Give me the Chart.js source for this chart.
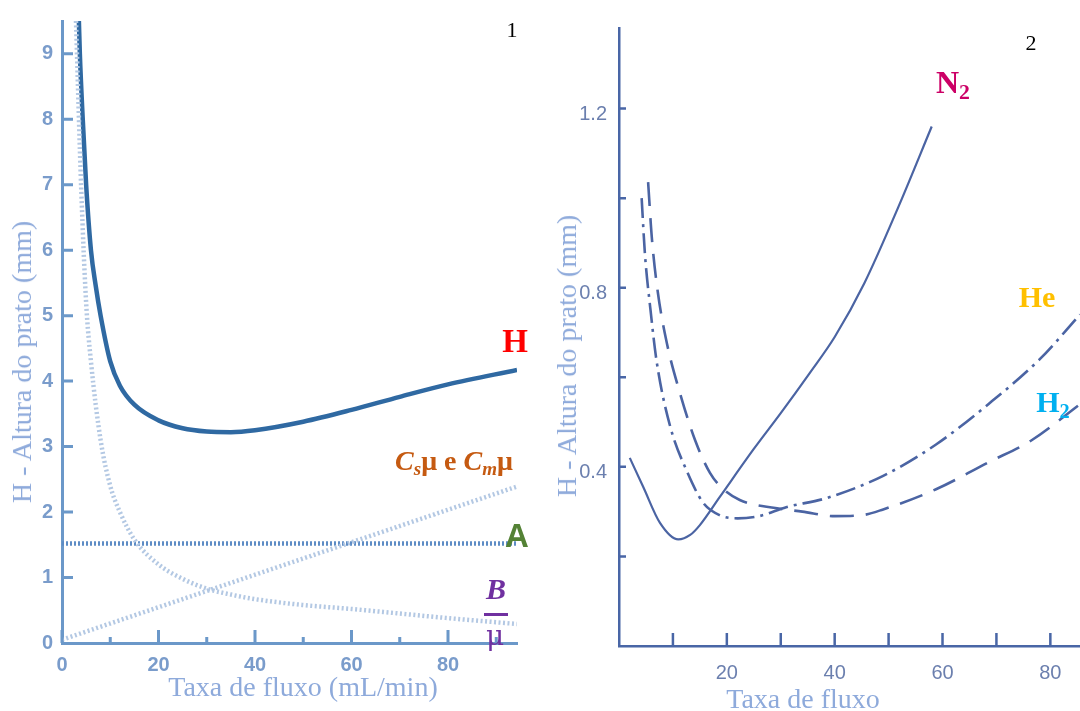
<!DOCTYPE html>
<html>
<head>
<meta charset="utf-8">
<script src="https://cdn.jsdelivr.net/npm/chart.js@4.4.1/dist/chart.umd.min.js"></script>
<style>
body{margin:0;background:#fff;}
#wrap{position:relative;width:1080px;height:711px;overflow:hidden;}
canvas{position:absolute;top:0;}
#c1{left:0;}
#c2{left:540px;}
.t{position:absolute;white-space:nowrap;font-family:'Liberation Serif','Times New Roman',serif;line-height:1;}
.rot{transform:translate(-50%,-50%) rotate(-90deg);}
.ctr{transform:translate(-50%,-50%);}
.t sub{font-size:.68em;vertical-align:-0.28em;line-height:0;}
</style>
</head>
<body>
<div id="wrap">
  <canvas id="c1" width="540" height="711"></canvas>
  <canvas id="c2" width="540" height="711"></canvas>

  <div class="t rot" style="left:22px;top:362px;font-size:28px;color:#8eaadb">H - Altura do prato (mm)</div>
  <div class="t ctr" style="left:303px;top:687px;font-size:28px;color:#8eaadb">Taxa de fluxo (mL/min)</div>
  <div class="t rot" style="left:567px;top:356px;font-size:28px;color:#8eaadb">H - Altura do prato (mm)</div>
  <div class="t ctr" style="left:803px;top:699px;font-size:28px;color:#8eaadb">Taxa de fluxo</div>

  <div class="t ctr" style="left:512px;top:30px;font-size:22px;color:#000">1</div>
  <div class="t ctr" style="left:1031px;top:43px;font-size:22px;color:#000">2</div>

  <div class="t ctr" style="left:515px;top:341px;font-size:33px;font-weight:bold;color:#ff0000">H</div>
  <div class="t ctr" style="left:454px;top:461px;font-size:28px;font-weight:bold;color:#c55a11"><i>C<sub>s</sub></i>μ e <i>C<sub>m</sub></i>μ</div>
  <div class="t ctr" style="left:517px;top:535px;font-size:33px;font-weight:bold;font-family:'Liberation Sans',Arial,sans-serif;color:#548235">A</div>
  <div class="t ctr" style="left:496px;top:589px;font-size:30px;font-weight:bold;font-style:italic;color:#7030a0">B</div>
  <div style="position:absolute;left:484px;top:613px;width:24px;height:3px;background:#7030a0"></div>
  <div class="t ctr" style="left:495px;top:636px;font-size:28px;font-family:'DejaVu Serif',serif;color:#7030a0">μ</div>

  <div class="t ctr" style="left:953px;top:82px;font-size:32px;font-weight:bold;color:#cc0066">N<sub>2</sub></div>
  <div class="t ctr" style="left:1037px;top:297px;font-size:30px;font-weight:bold;color:#ffc000">He</div>
  <div class="t ctr" style="left:1053px;top:402px;font-size:30px;font-weight:bold;color:#00b0f0">H<sub>2</sub></div>
</div>

<script>
// painel 1 - equação de van Deemter (H, A, B/u, Cu)
let flowH = [3.5, 3.7, 4.3, 5, 6, 7, 8, 10, 12, 15, 20, 25, 30, 35, 40, 50, 60, 70, 80, 94.3];
let plateH = [9.5, 9.0, 8.0, 7.0, 6.0, 5.45, 5.0, 4.3, 3.93, 3.64, 3.4, 3.28, 3.23, 3.22, 3.25, 3.38, 3.56, 3.76, 3.95, 4.17];
let flowB = [2.9, 4, 5, 6, 8, 10, 12, 15, 20, 25, 30, 35, 40, 50, 60, 70, 80, 94.3];
let plateB = [9.5, 6.9, 5.2, 4.3, 3.1, 2.4, 2.0, 1.58, 1.2, 0.98, 0.83, 0.74, 0.67, 0.58, 0.52, 0.45, 0.38, 0.29];
let flowC = [0, 94.3];
let plateC = [0.05, 2.39];
let flowA = [0, 94.3];
let plateA = [1.52, 1.52];

// painel 2 - gases de arraste
let flowN2 = [2, 4.5, 7.6, 11, 13.2, 15, 18.7, 25, 30, 35.4, 40, 45.5, 51.8, 58];
let plateN2 = [0.42, 0.355, 0.275, 0.238, 0.248, 0.27, 0.333, 0.44, 0.52, 0.61, 0.69, 0.81, 0.98, 1.16];
let flowHe = [4.2, 4.8, 5.8, 7, 9.5, 12.6, 15.6, 18.7, 22, 26, 31, 38.4, 49, 58.8, 68.5, 78, 85.5];
let plateHe = [1.0, 0.877, 0.755, 0.634, 0.49, 0.39, 0.32, 0.292, 0.285, 0.29, 0.31, 0.33, 0.38, 0.45, 0.54, 0.64, 0.74];
let flowH2 = [5.4, 6.1, 7.2, 8.9, 11.3, 14.1, 16.9, 19.1, 22.4, 29, 34, 40, 45, 49, 58.8, 68.5, 76.6, 85.5];
let plateH2 = [1.036, 0.91, 0.79, 0.675, 0.565, 0.46, 0.386, 0.353, 0.326, 0.308, 0.3, 0.29, 0.292, 0.305, 0.35, 0.41, 0.46, 0.54];

let pts = (xs, ys) => xs.map((x, i) => ({x: x, y: ys[i]}));

// ticks voltados para dentro do gráfico
const innerTicks = {
  id: 'innerTicks',
  afterDraw(chart, args, o) {
    const ctx = chart.ctx, xs = chart.scales.x, ys = chart.scales.y;
    ctx.save();
    ctx.strokeStyle = o.color;
    ctx.lineWidth = o.width;
    ctx.beginPath();
    xs.ticks.forEach(t => {
      if (t.value < o.xFrom) return;
      const px = xs.getPixelForValue(t.value);
      const len = Math.round(t.value) % 20 === 0 ? o.xMajor : o.xMinor;
      ctx.moveTo(px, xs.top);
      ctx.lineTo(px, xs.top - len);
    });
    ys.ticks.forEach(t => {
      if (t.value <= 0.001) return;
      const py = ys.getPixelForValue(t.value);
      ctx.moveTo(ys.right, py);
      ctx.lineTo(ys.right + o.yLen, py);
    });
    ctx.stroke();
    ctx.restore();
  }
};

let line = (data, color, width, dash) => ({
  data: data, borderColor: color, borderWidth: width, borderDash: dash || [],
  pointRadius: 0, fill: false, tension: 0.4, cubicInterpolationMode: 'monotone'
});

new Chart(document.getElementById('c1'), {
  type: 'line',
  data: {
    datasets: [
      line(pts(flowB, plateB), '#b3c8e3', 4.5, [2, 2.5]),
      line(pts(flowC, plateC), '#b3c8e3', 4.5, [2, 2.5]),
      line(pts(flowA, plateA), '#5d8cc5', 4.5, [2, 2]),
      line(pts(flowH, plateH), '#2f69a2', 4.5)
    ]
  },
  options: {
    responsive: false,
    animation: false,
    events: [],
    layout: {autoPadding: false, padding: {left: 0, right: 23, top: 15, bottom: 0}},
    plugins: {
      legend: {display: false}, tooltip: {enabled: false},
      innerTicks: {color: '#6b98c9', width: 3, xFrom: 0, xMajor: 13, xMinor: 6, yLen: 11}
    },
    scales: {
      x: {
        type: 'linear', min: 0, max: 94.3,
        afterFit: s => { s.height = 68; },
        grid: {display: false, drawTicks: false},
        border: {display: true, color: '#6b98c9', width: 3},
        ticks: {
          stepSize: 10, includeBounds: false, padding: 10, maxRotation: 0, autoSkip: false,
          color: '#7a9ccb', font: {family: 'Liberation Sans', size: 20, weight: 'bold'},
          callback: v => (Math.round(v) % 20 === 0 ? v : '')
        }
      },
      y: {
        min: 0, max: 9.5,
        afterFit: s => { s.width = 62; },
        grid: {display: false, drawTicks: false},
        border: {display: true, color: '#6b98c9', width: 3},
        ticks: {
          stepSize: 1, includeBounds: false, padding: 9,
          color: '#7a9ccb', font: {family: 'Liberation Sans', size: 20, weight: 'bold'}
        }
      }
    }
  },
  plugins: [innerTicks]
});

new Chart(document.getElementById('c2'), {
  type: 'line',
  data: {
    datasets: [
      line(pts(flowN2, plateN2), '#4b64a3', 2.2),
      line(pts(flowHe, plateHe), '#4b64a3', 2.6, [20, 6, 3, 6]),
      line(pts(flowH2, plateH2), '#4b64a3', 2.6, [24, 12])
    ]
  },
  options: {
    responsive: false,
    animation: false,
    events: [],
    layout: {autoPadding: false, padding: {left: 0, right: 0, top: 28, bottom: 0}},
    plugins: {
      legend: {display: false}, tooltip: {enabled: false},
      innerTicks: {color: '#4966a6', width: 2.5, xFrom: 10, xMajor: 13, xMinor: 13, yLen: 7}
    },
    scales: {
      x: {
        type: 'linear', min: 0, max: 85.5,
        afterFit: s => { s.height = 65; },
        grid: {display: false, drawTicks: false},
        border: {display: true, color: '#4966a6', width: 2.5},
        ticks: {
          stepSize: 10, includeBounds: false, padding: 15, maxRotation: 0, autoSkip: false,
          color: '#6b7fae', font: {family: "'Liberation Sans Narrow', 'Liberation Sans'", size: 20},
          callback: v => (Math.round(v) % 20 === 0 && v > 0 ? v : '')
        }
      },
      y: {
        min: 0, max: 1.38,
        afterFit: s => { s.width = 79; },
        grid: {display: false, drawTicks: false},
        border: {display: true, color: '#4966a6', width: 2.5},
        ticks: {
          stepSize: 0.2, includeBounds: false, padding: 12, labelOffset: 6,
          color: '#6b7fae', font: {family: "'Liberation Sans Narrow', 'Liberation Sans'", size: 20},
          callback: v => {
            let r = Math.round(v * 10);
            return (r > 0 && r % 4 === 0) ? (r / 10).toFixed(1) : '';
          }
        }
      }
    }
  },
  plugins: [innerTicks]
});
</script>
</body>
</html>
